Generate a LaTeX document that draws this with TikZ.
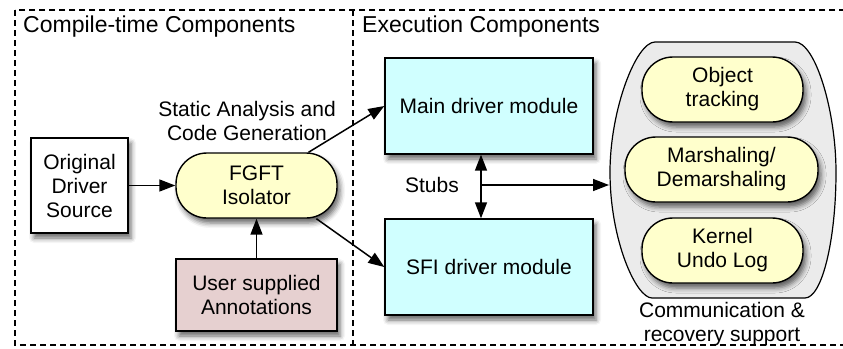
\documentclass[tikz,border=0pt]{standalone}
\usepackage{fontspec}
\setmainfont{Liberation Sans}
\usetikzlibrary{arrows.meta,shadows.blur,calc}
\definecolor{pillyellow}{RGB}{255,255,204}
\definecolor{annpink}{RGB}{230,208,208}
\definecolor{modcyan}{RGB}{208,255,255}
\definecolor{contgray}{RGB}{235,235,235}
\begin{document}
\begin{tikzpicture}[x=1pt,y=-1pt,
 txt/.style={font=\fontsize{21}{24}\selectfont, align=center, inner sep=0pt},
 ttl/.style={font=\fontsize{23}{26}\selectfont, inner sep=0pt, anchor=base west},
 boxshadow/.style={blur shadow={shadow xshift=3pt,shadow yshift=-5pt,shadow blur radius=5pt,shadow opacity=60}},
 rect/.style={txt, draw=black, line width=1.4pt, boxshadow},
 pill/.style={txt, draw=black, line width=1.4pt, rounded corners=31pt, fill=pillyellow, boxshadow, minimum height=65pt},
 arr/.style={line width=1.5pt, -{Triangle[length=16pt,width=12pt]}},
 darr/.style={line width=1.5pt, {Triangle[length=16pt,width=12pt]}-{Triangle[length=16pt,width=12pt]}},
 frame/.style={line width=1.2pt, dash pattern=on 6pt off 4pt},
]
\useasboundingbox (0,0) rectangle (843,348);
% frame
\draw[frame] (15,10) rectangle (860,345);
\draw[frame] (353,10) -- (353,345);
\node[ttl] (t1) at (23,32) {Compile-time Components};
\node[ttl] (t2) at (362,32) {Execution Components};
% container
\draw[line width=1.2pt, fill=contgray] (655,42) -- (795,42)
  .. controls (815,42) and (836,110) .. (836,172)
  .. controls (836,240) and (822,298) .. (805,298) -- (652,298)
  .. controls (636,298) and (610,240) .. (610,172)
  .. controls (610,110) and (636,42) .. (655,42) -- cycle;
\coordinate (contw) at (609,185);
% nodes
\node[rect, fill=white, minimum width=97pt, minimum height=95pt] (orig) at (79.5,185.5) {Original\\Driver\\Source};
\node[pill, minimum width=161pt] (fgft) at (256.5,185.5) {FGFT\\Isolator};
\node[rect, fill=annpink, minimum width=161pt, minimum height=72pt] (ann) at (256.5,295) {User supplied\\Annotations};
\node[rect, fill=modcyan, minimum width=208pt, minimum height=96pt] (main) at (489,106) {Main driver module};
\node[rect, fill=modcyan, minimum width=208pt, minimum height=96pt] (sfi) at (489,267) {SFI driver module};
\node[pill, minimum width=161pt] (obj) at (722.5,89.5) {Object\\tracking};
\node[pill, minimum width=193pt] (mar) at (721.5,169.5) {Marshaling/\\Demarshaling};
\node[pill, minimum width=161pt] (ker) at (722.5,250.5) {Kernel\\Undo Log};
% labels
\node[txt] (sa) at (247,121) {Static Analysis and\\Code Generation};
\node[txt, anchor=east] (stubs) at (459,185) {Stubs};
\node[txt, anchor=north] (comm) at (722,302) {Communication \&\\recovery support};
% arrows
\draw[arr] (orig.east) -- (fgft.west);
\draw[arr] (ann.north) -- (fgft.south);
\draw[arr] ($(fgft.north)+(52,0)$) -- (main.west);
\draw[arr] (fgft.-29) -- (sfi.west);
\coordinate (s) at (481,185);
\draw[darr] (s |- main.south) -- (s |- sfi.north);
\draw[arr] (s) -- (contw);
\end{tikzpicture}
\end{document}
